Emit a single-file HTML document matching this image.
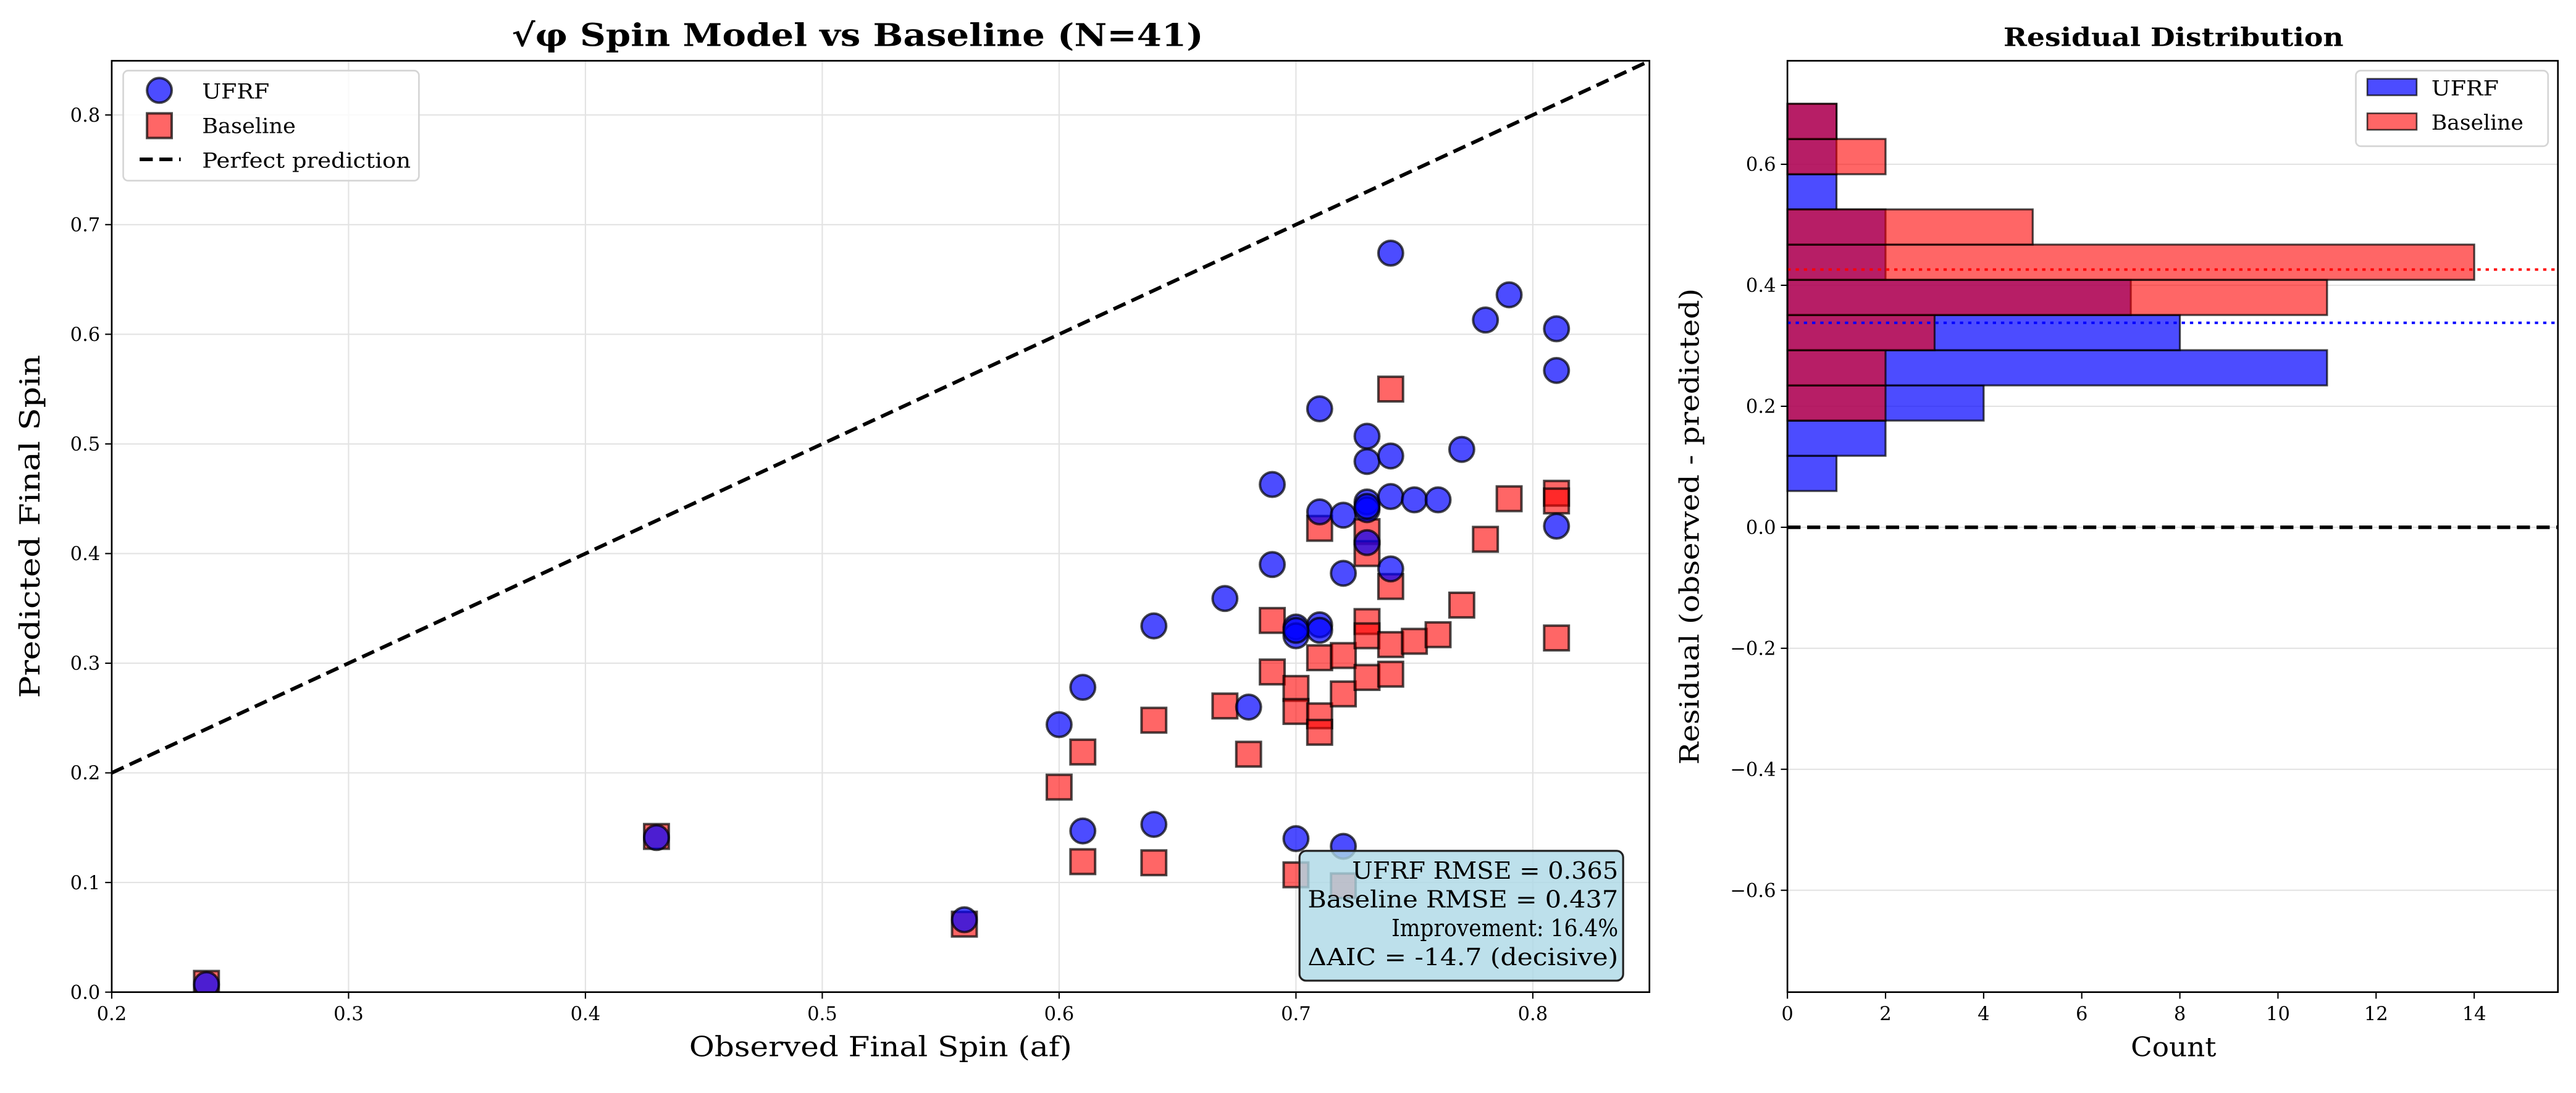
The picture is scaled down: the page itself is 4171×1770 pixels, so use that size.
<!DOCTYPE html>
<html><head><meta charset="utf-8"><style>
html,body{margin:0;padding:0;background:#fff}
svg{display:block}
text{font-family:"DejaVu Serif","Liberation Serif",serif;fill:#000}
</style></head><body>
<svg id="fig" xmlns="http://www.w3.org/2000/svg" width="4171" height="1770" viewBox="0 0 1568 665.4">
<rect width="1568" height="665.4" fill="#fff"/>
<g id="left"></g>
<g id="right"></g>
</svg>
<script>
const ufrfObs=[0.24,0.43,0.56,0.60,0.61,0.61,0.64,0.64,0.67,0.68,0.69,0.69,0.70,0.70,0.70,0.71,0.71,0.71,0.71,0.72,0.72,0.72,0.73,0.73,0.73,0.73,0.73,0.73,0.74,0.74,0.74,0.74,0.75,0.76,0.77,0.78,0.79,0.81,0.81,0.81,0.70];
const ufrfPred=[0.007,0.141,0.066,0.244,0.278,0.147,0.334,0.153,0.359,0.260,0.463,0.390,0.333,0.325,0.140,0.335,0.330,0.532,0.438,0.435,0.382,0.133,0.507,0.484,0.447,0.440,0.443,0.410,0.674,0.489,0.452,0.386,0.449,0.449,0.495,0.613,0.636,0.605,0.567,0.425,0.330];
const baseObs=[0.24,0.43,0.56,0.60,0.61,0.61,0.64,0.64,0.67,0.68,0.69,0.69,0.70,0.70,0.70,0.71,0.71,0.71,0.71,0.72,0.72,0.72,0.73,0.73,0.73,0.73,0.73,0.74,0.74,0.74,0.74,0.75,0.76,0.77,0.78,0.79,0.81,0.81,0.81];
const basePred=[0.008,0.142,0.062,0.187,0.219,0.119,0.248,0.118,0.261,0.217,0.339,0.292,0.277,0.256,0.107,0.423,0.305,0.252,0.237,0.307,0.272,0.097,0.420,0.400,0.338,0.325,0.287,0.550,0.370,0.317,0.290,0.320,0.326,0.353,0.413,0.450,0.455,0.448,0.323];
const xTicks=[0.2,0.3,0.4,0.5,0.6,0.7,0.8];
const yTicks=[0.0,0.1,0.2,0.3,0.4,0.5,0.6,0.7,0.8];
const binLo=0.06, binHi=0.70;
const ufrfCounts=[1,2,4,11,8,7,2,2,1,1,1];
const baseCounts=[0,0,2,2,3,11,14,5,0,2,1];
const ufrfMean=0.338, baseMean=0.426;
const hxTicks=[0,2,4,6,8,10,12,14];
const hyTicks=[-0.6,-0.4,-0.2,0.0,0.2,0.4,0.6];
const statLines=["UFRF RMSE = 0.365","Baseline RMSE = 0.437","Improvement: 16.4%","ΔAIC = -14.7 (decisive)"];
const statLens=[162,189,138,189];

const NS="http://www.w3.org/2000/svg";
function mk(parent,tag,attrs,txt){const e=document.createElementNS(NS,tag);for(const k in attrs)e.setAttribute(k,attrs[k]);if(txt!==undefined)e.textContent=txt;parent.appendChild(e);return e;}
function fit(o,len){o.setAttribute('textLength',len);o.setAttribute('lengthAdjust','spacingAndGlyphs');return o;}

// ---------- left scatter ----------
const L=document.getElementById('left');
const AX={l:68,r:1004,t:37,b:604};
const xmin=0.2,xmax=0.2+(AX.r-AX.l)/1441.7, ymin=0, ymax=(AX.b-AX.t)/667.5;
const sx=v=>AX.l+(v-xmin)/(xmax-xmin)*(AX.r-AX.l);
const sy=v=>AX.b-(v-ymin)/(ymax-ymin)*(AX.b-AX.t);
xTicks.forEach(t=>{
  let g=mk(L,'line',{x1:sx(t),x2:sx(t),y1:AX.t,y2:AX.b,stroke:'#e3e3e3','stroke-width':0.8});
  
  let k=mk(L,'line',{x1:sx(t),x2:sx(t),y1:AX.b,y2:AX.b+4,stroke:'#000','stroke-width':0.8});
  
  let lb=mk(L,'text',{x:sx(t),y:AX.b+17,'font-size':11.5,'text-anchor':'middle'},t.toFixed(1));
  
});
yTicks.forEach(t=>{
  let g=mk(L,'line',{x1:AX.l,x2:AX.r,y1:sy(t),y2:sy(t),stroke:'#e3e3e3','stroke-width':0.8});
  
  let k=mk(L,'line',{x1:AX.l-4,x2:AX.l,y1:sy(t),y2:sy(t),stroke:'#000','stroke-width':0.8});
  
  let lb=mk(L,'text',{x:AX.l-7,y:sy(t)+4,'font-size':11.5,'text-anchor':'end'},t.toFixed(1));
  
});
let clipL=mk(L,'clipPath',{id:'clipL'});mk(clipL,'rect',{x:AX.l,y:AX.t,width:AX.r-AX.l,height:AX.b-AX.t});
const pts=mk(L,'g',{'clip-path':'url(#clipL)'});

let diag=mk(pts,'line',{x1:sx(xmin),y1:sy(xmin),x2:sx(xmax),y2:sy(xmax),stroke:'#000','stroke-width':2.2,'stroke-dasharray':'8,4'});

baseObs.forEach((v,i)=>{
  let c=mk(pts,'rect',{x:sx(v)-7.5,y:sy(basePred[i])-7.5,width:15,height:15,fill:'#ff0000','fill-opacity':0.6,stroke:'#000','stroke-opacity':0.7,'stroke-width':1.5});
  
});
ufrfObs.forEach((v,i)=>{
  let c=mk(pts,'circle',{cx:sx(v),cy:sy(ufrfPred[i]),r:7.5,fill:'#0000ff','fill-opacity':0.7,stroke:'#000','stroke-opacity':0.7,'stroke-width':1.5});
  
});
let fr=mk(L,'rect',{x:AX.l,y:AX.t,width:AX.r-AX.l,height:AX.b-AX.t,fill:'none',stroke:'#000','stroke-width':1});

let tt=fit(mk(L,'text',{x:522,y:28,'font-size':19,'font-weight':'bold','text-anchor':'middle'},'√φ Spin Model vs Baseline (N=41)'),421);

let xl=fit(mk(L,'text',{x:536,y:643,'font-size':17,'text-anchor':'middle'},'Observed Final Spin (af)'),233);

let yl=fit(mk(L,'text',{x:0,y:0,'font-size':17,'text-anchor':'middle',transform:`translate(24,${(AX.t+AX.b)/2}) rotate(-90)`},'Predicted Final Spin'),209);

// legend
const lg=mk(L,'g',{});
mk(lg,'rect',{x:75,y:43,width:180,height:67,rx:3,fill:'#fff','fill-opacity':0.8,stroke:'#d5d5d5','stroke-width':1});
mk(lg,'circle',{cx:97,cy:55,r:7.5,fill:'#0000ff','fill-opacity':0.7,stroke:'#000','stroke-opacity':0.7,'stroke-width':1.5});
fit(mk(lg,'text',{x:123,y:60,'font-size':12.5},'UFRF'),41);
mk(lg,'rect',{x:89.5,y:69,width:15,height:15,fill:'#ff0000','fill-opacity':0.6,stroke:'#000','stroke-opacity':0.7,'stroke-width':1.5});
fit(mk(lg,'text',{x:123,y:81,'font-size':12.5},'Baseline'),57);
mk(lg,'line',{x1:85,x2:110,y1:97,y2:97,stroke:'#000','stroke-width':2.2,'stroke-dasharray':'8,4'});
fit(mk(lg,'text',{x:123,y:102,'font-size':12.5},'Perfect prediction'),127);
// stats box
const sb=mk(L,'g',{});
mk(sb,'rect',{x:791,y:518,width:197,height:79,rx:4,fill:'#add8e6','fill-opacity':0.8,stroke:'#222','stroke-width':1.2});
statLines.forEach((s,i)=>{let t=fit(mk(sb,'text',{x:985,y:535+i*17.5,'font-size':14.5,'text-anchor':'end'},s),statLens[i]);
  });

// ---------- right histogram ----------
const R=document.getElementById('right');
const BX={l:1088,r:1557,t:37,b:604};
const hxmax=(BX.r-BX.l)/29.86, hymax=(321-BX.t)/368.3, hymin=(321-BX.b)/368.3;
const hx=v=>BX.l+v/hxmax*(BX.r-BX.l);
const hy=v=>BX.b-(v-hymin)/(hymax-hymin)*(BX.b-BX.t);
hyTicks.forEach(t=>{
  let g=mk(R,'line',{x1:BX.l,x2:BX.r,y1:hy(t),y2:hy(t),stroke:'#e3e3e3','stroke-width':0.8});
  
  let k=mk(R,'line',{x1:BX.l-4,x2:BX.l,y1:hy(t),y2:hy(t),stroke:'#000','stroke-width':0.8});
  
  let lb=mk(R,'text',{x:BX.l-7,y:hy(t)+4,'font-size':11.5,'text-anchor':'end'},(t<0?'−':'')+Math.abs(t).toFixed(1));
  
});
hxTicks.forEach(t=>{
  let k=mk(R,'line',{x1:hx(t),x2:hx(t),y1:BX.b,y2:BX.b+4,stroke:'#000','stroke-width':0.8});
  
  let lb=mk(R,'text',{x:hx(t),y:BX.b+17,'font-size':11.5,'text-anchor':'middle'},String(t));
  
});
const nb=ufrfCounts.length, bw=(binHi-binLo)/nb;
ufrfCounts.forEach((c,i)=>{ if(!c)return;
  let b=mk(R,'rect',{x:hx(0),y:hy(binLo+(i+1)*bw),width:hx(c)-hx(0),height:hy(binLo+i*bw)-hy(binLo+(i+1)*bw),fill:'#0000ff','fill-opacity':0.7,stroke:'#000','stroke-opacity':0.7,'stroke-width':1.2});
  
});
baseCounts.forEach((c,i)=>{ if(!c)return;
  let b=mk(R,'rect',{x:hx(0),y:hy(binLo+(i+1)*bw),width:hx(c)-hx(0),height:hy(binLo+i*bw)-hy(binLo+(i+1)*bw),fill:'#ff0000','fill-opacity':0.6,stroke:'#000','stroke-opacity':0.7,'stroke-width':1.2});
  
});
let zl=mk(R,'line',{x1:BX.l,x2:BX.r,y1:hy(0),y2:hy(0),stroke:'#000','stroke-width':2.2,'stroke-dasharray':'8,4'});

let ml1=mk(R,'line',{x1:BX.l,x2:BX.r,y1:hy(ufrfMean),y2:hy(ufrfMean),stroke:'#0000ff','stroke-width':1.5,'stroke-dasharray':'2,3'});

let ml2=mk(R,'line',{x1:BX.l,x2:BX.r,y1:hy(baseMean),y2:hy(baseMean),stroke:'#ff0000','stroke-width':1.5,'stroke-dasharray':'2,3'});

let fr2=mk(R,'rect',{x:BX.l,y:BX.t,width:BX.r-BX.l,height:BX.b-BX.t,fill:'none',stroke:'#000','stroke-width':1});

let t2=fit(mk(R,'text',{x:1323,y:28,'font-size':15.5,'font-weight':'bold','text-anchor':'middle'},'Residual Distribution'),207);

let x2=fit(mk(R,'text',{x:1323,y:643,'font-size':16,'text-anchor':'middle'},'Count'),52);

let y2=fit(mk(R,'text',{x:0,y:0,'font-size':16,'text-anchor':'middle',transform:`translate(1034,${(BX.t+BX.b)/2}) rotate(-90)`},'Residual (observed - predicted)'),290);

const lg2=mk(R,'g',{});
mk(lg2,'rect',{x:1434,y:43,width:117,height:46,rx:3,fill:'#fff','fill-opacity':0.8,stroke:'#d5d5d5','stroke-width':1});
mk(lg2,'rect',{x:1441,y:48,width:30,height:10,fill:'#0000ff','fill-opacity':0.7,stroke:'#000','stroke-opacity':0.7,'stroke-width':1});
fit(mk(lg2,'text',{x:1480,y:58,'font-size':12.5},'UFRF'),41);
mk(lg2,'rect',{x:1441,y:69,width:30,height:10,fill:'#ff0000','fill-opacity':0.6,stroke:'#000','stroke-opacity':0.7,'stroke-width':1});
fit(mk(lg2,'text',{x:1480,y:79,'font-size':12.5},'Baseline'),56);
</script>
</body></html>
